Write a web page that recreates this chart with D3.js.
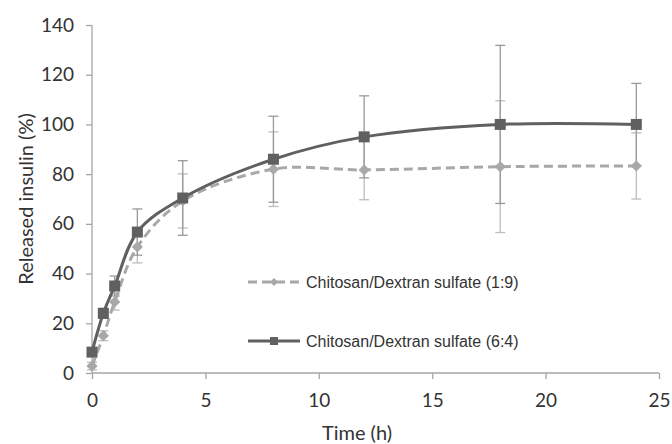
<!DOCTYPE html>
<html>
<head>
<meta charset="utf-8">
<script src="https://cdn.jsdelivr.net/npm/d3@7"></script>
<style>
	body{margin:0;background:#fff;}
	svg text{fill:#3a3a3a;}
</style>
</head>
<body>
<div id="chart"></div>
<script>
// time points (h)
var times=[0,0.5,1,2,4,8,12,18,24];
// Chitosan/Dextran sulfate (1:9)
var lightVals=[2.8,15,28.6,50.7,69.2,82,81.7,83,83.3];
var lightErr=[1.5,2,3.3,6.4,10.9,15,12,26.5,13.3];
// Chitosan/Dextran sulfate (6:4)
var darkVals=[8.4,24,35,56.7,70.4,86,95,100,100];
var darkErr=[1.5,2,4,9.3,15,17.3,16.5,31.8,16.5];
var seriesNames=["Chitosan/Dextran sulfate (1:9)","Chitosan/Dextran sulfate (6:4)"];
var xTicks=[0,5,10,15,20,25];
var yTicks=[0,20,40,60,80,100,120,140];

var W=672,H=444;
var pLeft=92,pRight=659,pTop=25,pBottom=373;
var light='#a8a8a8', dark='#606060';
var tickFont="Lato, 'Open Sans', sans-serif";

var svg=d3.select("#chart").append("svg").attr("width",W).attr("height",H);
var x=d3.scaleLinear().domain([0,25]).range([pLeft,pRight]);
var y=d3.scaleLinear().domain([0,140]).range([pBottom,pTop]);

// axes
var yAxis=svg.append("g").attr("transform","translate("+pLeft+",0)")
	.call(d3.axisLeft(y).tickValues(yTicks).tickSize(6).tickPadding(12));
var xAxis=svg.append("g").attr("transform","translate(0,"+pBottom+")")
	.call(d3.axisBottom(x).tickValues(xTicks).tickSize(6).tickPadding(15));
[xAxis,yAxis].forEach(function(a){
	a.select(".domain").attr("stroke","#a6a6a6").attr("stroke-width",1.3);
	a.selectAll(".tick line").attr("stroke","#a6a6a6").attr("stroke-width",1.3);
	a.selectAll(".tick text").attr("font-family",tickFont)
		.attr("font-size",19).style("fill","#333");
});
yAxis.select(".domain").attr("d","M0,"+pBottom+"V"+pTop);
xAxis.select(".domain").attr("d","M"+pLeft+",0H"+pRight);

svg.append("text").attr("transform","translate(33,"+((pTop+pBottom)/2)+") rotate(-90)")
	.attr("text-anchor","middle").attr("font-family",tickFont)
	.attr("font-size",20).style("fill","#333").text("Released insulin (%)");
svg.append("text").attr("x",357).attr("y",440).attr("text-anchor","middle")
	.attr("font-family",tickFont)
	.attr("font-size",20).style("fill","#333").text("Time (h)");

function pts(vals){return times.map(function(t,i){return [t,vals[i]];});}
var line=d3.line().x(function(d){return x(d[0]);}).y(function(d){return y(d[1]);})
	.curve(d3.curveCatmullRom.alpha(0.5));

// error bars
function errBars(vals,errs,col){
	var g=svg.append("g").attr("stroke",col).attr("stroke-width",1.3);
	times.forEach(function(t,i){
		var cx=x(t), y1=y(vals[i]+errs[i]), y2=y(vals[i]-errs[i]);
		g.append("line").attr("x1",cx).attr("x2",cx).attr("y1",y1).attr("y2",y2);
		g.append("line").attr("x1",cx-5).attr("x2",cx+5).attr("y1",y1).attr("y2",y1);
		g.append("line").attr("x1",cx-5).attr("x2",cx+5).attr("y1",y2).attr("y2",y2);
	});
}
errBars(lightVals,lightErr,"#bdbdbd");
errBars(darkVals,darkErr,"#999");

// lines
svg.append("path").datum(pts(lightVals)).attr("d",line).attr("fill","none")
	.attr("stroke",light).attr("stroke-width",3).attr("stroke-dasharray","9,5");
svg.append("path").datum(pts(darkVals)).attr("d",line).attr("fill","none")
	.attr("stroke",dark).attr("stroke-width",3);

// markers
svg.selectAll("path.dia").data(pts(lightVals)).enter().append("path").attr("class","dia")
	.attr("d",d3.symbol().type(d3.symbolDiamond2).size(80))
	.attr("transform",function(d){return "translate("+x(d[0])+","+y(d[1])+")";})
	.attr("fill",light);
svg.selectAll("rect.sq").data(pts(darkVals)).enter().append("rect").attr("class","sq")
	.attr("x",function(d){return x(d[0])-5.5;}).attr("y",function(d){return y(d[1])-5.5;})
	.attr("width",11).attr("height",11).attr("fill",dark);

// legend
var lg=[{name:seriesNames[0],col:light,dash:"9,5",sym:"dia",yy:282},
	{name:seriesNames[1],col:dark,dash:null,sym:"sq",yy:341}];
lg.forEach(function(l){
	var g=svg.append("g");
	g.append("line").attr("x1",248).attr("x2",300).attr("y1",l.yy).attr("y2",l.yy)
		.attr("stroke",l.col).attr("stroke-width",3).attr("stroke-dasharray",l.dash);
	if(l.sym=="dia"){
		g.append("path").attr("d",d3.symbol().type(d3.symbolDiamond2).size(40))
			.attr("transform","translate(274,"+l.yy+")").attr("fill",l.col);
	}else{
		g.append("rect").attr("x",270).attr("y",l.yy-4).attr("width",8).attr("height",8).attr("fill",l.col);
	}
	g.append("text").attr("x",306).attr("y",l.yy+5.5).attr("font-family","'Liberation Sans', Arial, sans-serif")
		.attr("font-size",16).style("fill","#333").text(l.name);
});
</script>
</body>
</html>
